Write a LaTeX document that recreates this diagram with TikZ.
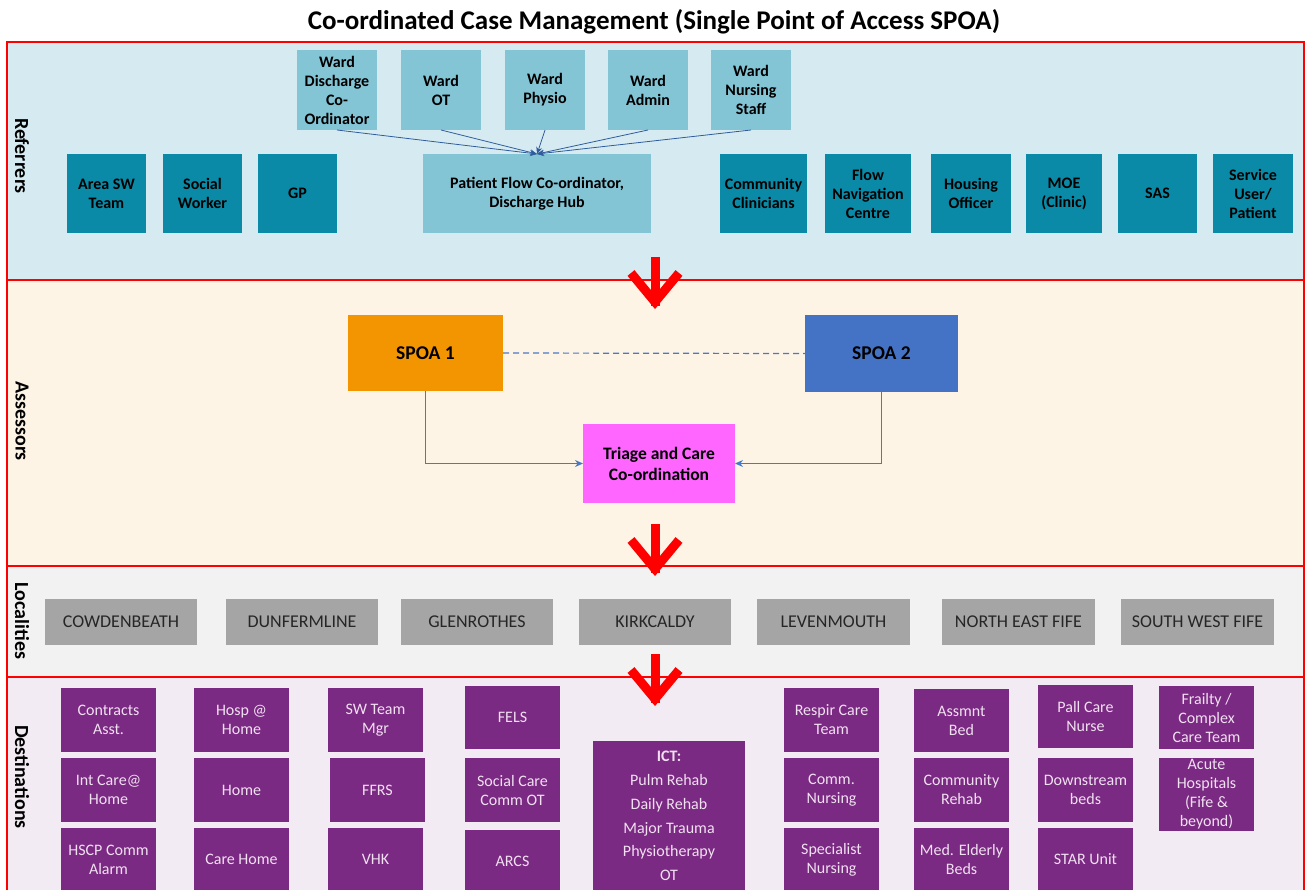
\documentclass[tikz,border=0pt]{standalone}
\usepackage{fontspec}
\setmainfont{Carlito}
\usetikzlibrary{arrows.meta}

\definecolor{refbg}{HTML}{D5EBF1}
\definecolor{wardc}{HTML}{83C4D5}
\definecolor{tealc}{HTML}{0A8AA6}
\definecolor{asbg}{HTML}{FDF4E6}
\definecolor{spoaone}{HTML}{F39500}
\definecolor{spoatwo}{HTML}{4472C4}
\definecolor{triagec}{HTML}{FF66FF}
\definecolor{locbg}{HTML}{F2F2F2}
\definecolor{grayc}{HTML}{A5A5A5}
\definecolor{graytext}{HTML}{262626}
\definecolor{destbg}{HTML}{F3EBF4}
\definecolor{purplec}{HTML}{7B2A83}
\definecolor{ptext}{HTML}{F0E0F0}
\definecolor{feedc}{HTML}{2E5C9E}
\definecolor{connc}{HTML}{4A78C8}

% box from corner (x1,y1) to (x2,y2): name, style, x1, y1, x2, y2, text
\newcommand\boxat[7]{%
  \pgfmathsetmacro\bxw{#5-#3}\pgfmathsetmacro\bxh{#6-#4}%
  \pgfmathsetmacro\bxcx{(#3+#5)/2}\pgfmathsetmacro\bxcy{(#4+#6)/2}%
  \node[#2, minimum width=\bxw pt, minimum height=\bxh pt] (#1) at (\bxcx,\bxcy) {#7};}

\tikzset{
  panel/.style={draw=red, line width=1.8pt},
  base/.style={inner sep=0pt, outer sep=0pt, align=center},
  ward/.style={base, fill=wardc, font=\fontsize{16}{19}\selectfont\bfseries},
  teal/.style={base, fill=tealc, font=\fontsize{16}{19}\selectfont\bfseries},
  spoa/.style={base, font=\fontsize{19.5}{23}\selectfont\bfseries},
  loc/.style={base, fill=grayc, text=graytext, font=\fontsize{18}{21}\selectfont},
  dest/.style={base, fill=purplec, text=ptext, font=\fontsize{16}{19}\selectfont},
  side/.style={rotate=-90, font=\fontsize{20}{24}\selectfont\bfseries, inner sep=0pt},
  feed/.style={draw=feedc, line width=0.8pt, -{Stealth[length=7pt,width=6pt]}},
  link/.style={draw=connc, line width=1pt, -{Stealth[length=8pt,width=7pt]}},
  bigarrow/.style={draw=red, line width=9pt, miter limit=10}
}

\begin{document}
\begin{tikzpicture}[x=1pt,y=-1pt]
\useasboundingbox (0,0) rectangle (1306,890);
\clip (0,0) rectangle (1306,890);
\fill[white] (0,0) rectangle (1306,890);

% title
\node[font=\fontsize{27}{31}\selectfont\bfseries, inner sep=0pt] (title) at (654,22)
  {Co-ordinated Case Management (Single Point of Access SPOA)};

% bands
\filldraw[panel, fill=refbg]  (7,42)  rectangle (1304,280);
\filldraw[panel, fill=asbg]   (7,280) rectangle (1304,566);
\filldraw[panel, fill=locbg]  (7,566) rectangle (1304,677);
\filldraw[panel, fill=destbg] (7,677) rectangle (1304,900);

\node[side] (lref)  at (22,156) {Referrers};
\node[side] (lass)  at (22,421) {Assessors};
\node[side] (lloc)  at (22,621) {Localities};
\node[side] (ldest) at (22,777) {Destinations};

% referrers: ward staff
\boxat{wdc}{ward}{297}{50}{377}{130}{Ward\\Discharge\\Co-\\Ordinator}
\boxat{wot}{ward}{401}{50}{481}{130}{Ward\\OT}
\boxat{wph}{ward}{505}{50}{585}{130}{Ward\\Physio}
\boxat{wad}{ward}{608}{50}{688}{130}{Ward\\Admin}
\boxat{wns}{ward}{711}{50}{791}{130}{Ward\\Nursing\\Staff}
\boxat{pf}{ward}{423}{154}{651}{233}{Patient Flow Co-ordinator,\\Discharge Hub}

\foreach \w in {wdc,wot,wph,wad,wns}
  \draw[feed] (\w.south) -- (pf.north);

% referrers: other sources
\boxat{asw}{teal}{67}{154}{146}{233}{Area SW\\Team}
\boxat{sw}{teal}{163}{154}{242}{233}{Social\\Worker}
\boxat{gp}{teal}{258}{154}{337}{233}{GP}
\boxat{cc}{teal}{720}{154}{807}{233}{Community\\Clinicians}
\boxat{fnc}{teal}{825}{154}{911}{233}{Flow\\Navigation\\Centre}
\boxat{ho}{teal}{931}{154}{1011}{233}{Housing\\Officer}
\boxat{moe}{teal}{1026}{154}{1102}{233}{MOE\\(Clinic)}
\boxat{sas}{teal}{1118}{154}{1197}{233}{SAS}
\boxat{sup}{teal}{1213}{154}{1293}{233}{Service\\User/\\Patient}

% assessors
\boxat{s1}{spoa, fill=spoaone}{348}{315}{503}{391}{SPOA 1}
\boxat{s2}{spoa, fill=spoatwo}{805}{315}{958}{392}{SPOA 2}
\boxat{tri}{base, fill=triagec, font=\fontsize{17.5}{21}\selectfont\bfseries}{583}{424}{735}{503}{Triage and Care\\Co-ordination}
\draw[connc, line width=1.2pt, dash pattern=on 6pt off 4pt] (s1.east) -- (s2.west);
\draw[link] (s1.south) |- (tri.west);
\draw[link] (s2.south) |- (tri.east);

% localities
\boxat{cow}{loc}{45}{599}{197}{645}{COWDENBEATH}
\boxat{dun}{loc}{226}{599}{378}{645}{DUNFERMLINE}
\boxat{gle}{loc}{401}{599}{553}{645}{GLENROTHES}
\boxat{kir}{loc}{579}{599}{731}{645}{KIRKCALDY}
\boxat{lev}{loc}{757}{599}{910}{645}{LEVENMOUTH}
\boxat{nef}{loc}{942}{599}{1095}{645}{NORTH EAST FIFE}
\boxat{swf}{loc}{1121}{599}{1274}{645}{SOUTH WEST FIFE}

% destinations
\boxat{d11}{dest}{61}{688}{156}{752}{Contracts\\Asst.}
\boxat{d12}{dest}{61}{758}{156}{822}{Int Care@\\Home}
\boxat{d13}{dest}{61}{828}{156}{891}{HSCP Comm\\Alarm}
\boxat{d21}{dest}{194}{688}{289}{752}{Hosp @\\Home}
\boxat{d22}{dest}{194}{758}{289}{822}{Home}
\boxat{d23}{dest}{194}{828}{289}{891}{Care Home}
\boxat{d31}{dest}{328}{688}{423}{752}{SW Team\\Mgr}
\boxat{d32}{dest}{330}{758}{425}{822}{FFRS}
\boxat{d33}{dest}{328}{828}{423}{891}{VHK}
\boxat{d41}{dest}{465}{686}{560}{749}{FELS}
\boxat{d42}{dest}{465}{758}{560}{822}{Social Care\\Comm OT}
\boxat{d43}{dest}{465}{830}{560}{893}{ARCS}
\boxat{ict}{dest, font=\fontsize{16}{23.8}\selectfont}{593}{741}{745}{891}{\textbf{ICT:}\\Pulm Rehab\\Daily Rehab\\Major Trauma\\Physiotherapy\\OT}
\boxat{d61}{dest}{784}{688}{879}{752}{Respir Care\\Team}
\boxat{d62}{dest}{784}{758}{879}{822}{Comm.\\Nursing}
\boxat{d63}{dest}{784}{828}{879}{891}{Specialist\\Nursing}
\boxat{d71}{dest}{914}{689}{1009}{752}{Assmnt\\Bed}
\boxat{d72}{dest}{914}{758}{1009}{822}{Community\\Rehab}
\boxat{d73}{dest}{914}{828}{1009}{891}{Med. Elderly\\Beds}
\boxat{d81}{dest}{1038}{685}{1133}{748}{Pall Care\\Nurse}
\boxat{d82}{dest}{1038}{758}{1133}{822}{Downstream\\beds}
\boxat{d83}{dest}{1038}{828}{1133}{891}{STAR Unit}
\boxat{d91}{dest}{1159}{686}{1254}{749}{Frailty /\\Complex\\Care Team}
\boxat{d92}{dest}{1159}{758}{1254}{831}{Acute\\Hospitals\\(Fife \&\\beyond)}

% flow arrows between bands
\foreach \t/\n in {257/a, 524/b, 654/c}{
  \coordinate (top\n) at (655,\t);
  \coordinate (tip\n) at (655,\t+45);
  \draw[bigarrow] (top\n) -- ([yshift=-4pt]tip\n);
  \draw[bigarrow] ([xshift=-24pt,yshift=29pt]tip\n) -- (tip\n) -- ([xshift=24pt,yshift=29pt]tip\n);
}
\end{tikzpicture}
\end{document}
